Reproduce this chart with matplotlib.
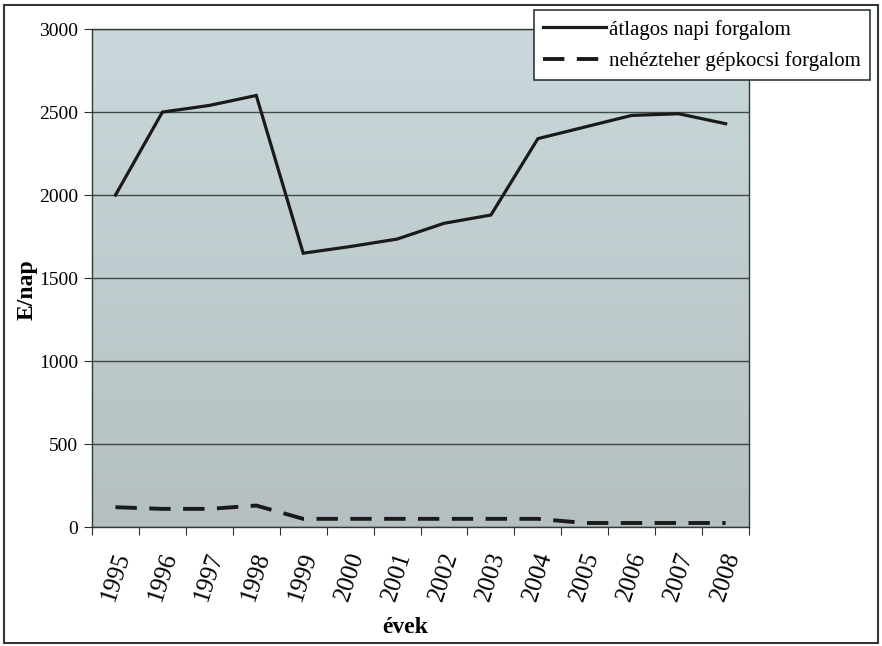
import matplotlib.pyplot as plt
import numpy as np
from matplotlib.patches import Rectangle

plt.rcParams['font.family'] = ['Liberation Serif', 'DejaVu Serif']

years = ['1995', '1996', '1997', '1998', '1999', '2000', '2001',
         '2002', '2003', '2004', '2005', '2006', '2007', '2008']
atlagos = [2000, 2500, 2540, 2600, 1650, 1690, 1735, 1830, 1880,
           2340, 2410, 2480, 2490, 2430]
nehez = [120, 110, 110, 130, 50, 50, 50, 50, 50, 50, 25, 25, 25, 25]

fig = plt.figure(figsize=(8.82, 6.46), dpi=100)
ax = fig.add_axes([0.1043, 0.184, 0.745, 0.771])

# plot area shading, lighter blue-gray at the top
grad = np.linspace(0, 1, 256).reshape(-1, 1)
top = np.array([0.79, 0.85, 0.86])
bot = np.array([0.71, 0.75, 0.76])
img = top + (bot - top) * grad[..., None]
ax.imshow(img, extent=[0, 1, 0, 1], transform=ax.transAxes,
          aspect='auto', zorder=0)

x = np.arange(len(years))
ax.plot(x, atlagos, color='#1a1a1a', lw=2.3, solid_joinstyle='miter',
        label='átlagos napi forgalom', zorder=3)
ax.plot(x, nehez, color='#1a1a1a', lw=2.8, dashes=(5.5, 3.2),
        label='nehézteher gépkocsi forgalom', zorder=3)

ax.set_xlim(-0.5, len(years) - 0.5)
ax.set_ylim(0, 3000)
ax.set_yticks(range(0, 3001, 500))
ax.yaxis.grid(True, color='#404848', lw=1.0)
for gl in ax.get_ygridlines():
    gl.set_zorder(1)

ax.set_xticks(np.arange(-0.5, len(years)), labels=[])
ax.set_xticks(x, labels=years, minor=True)
ax.tick_params(axis='x', which='major', length=6, color='#303030')
ax.tick_params(axis='x', which='minor', length=0, pad=16,
               labelsize=18, labelrotation=72)
ax.tick_params(axis='y', length=6, color='#303030', labelsize=14, pad=4)
for lbl in ax.get_xticklabels(minor=True):
    lbl.set_ha('center')

for s in ax.spines.values():
    s.set_color('#303838')
    s.set_linewidth(1.0)

ax.set_ylabel('E/nap', fontsize=17, fontweight='bold')
ax.yaxis.set_label_coords(-0.083, 0.476)
ax.set_xlabel('évek', fontsize=17, fontweight='bold')
ax.xaxis.set_label_coords(0.477, -0.18)

# outer frame of the figure
fig.patches.append(Rectangle((0.005, 0.005), 0.99, 0.987,
                             transform=fig.transFigure, fill=False,
                             ec='#303838', lw=1.5))

leg = fig.legend(loc='upper right', bbox_to_anchor=(0.998, 1.0),
                 fontsize=15, handlelength=3.0, handletextpad=0.15,
                 borderpad=0.45, labelspacing=0.55, fancybox=False,
                 framealpha=1, edgecolor='#303838')
leg.get_frame().set_linewidth(1.2)

fig.savefig('out.png', dpi=100)
